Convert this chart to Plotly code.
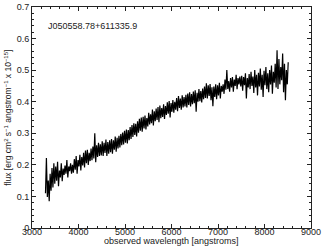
import plotly.graph_objects as go

object_name = "J050558.78+611335.9"

wavelength_start = 3290
wavelength_step = 20

flux = [
    0.110, 0.222, 0.098, 0.150, 0.085, 0.172, 0.118, 0.190, 0.128, 0.205,
    0.140, 0.195, 0.150, 0.210, 0.132, 0.182, 0.160, 0.205, 0.148, 0.188,
    0.168, 0.198, 0.172, 0.215, 0.160, 0.195, 0.180, 0.205, 0.172, 0.200,
    0.175, 0.218, 0.185, 0.228, 0.172, 0.215, 0.195, 0.232, 0.182, 0.225,
    0.198, 0.238, 0.192, 0.245, 0.205, 0.248, 0.200, 0.238, 0.212, 0.252,
    0.215, 0.258, 0.220, 0.300, 0.208, 0.262, 0.225, 0.270, 0.228, 0.265,
    0.230, 0.275, 0.228, 0.270, 0.238, 0.280, 0.228, 0.272, 0.235, 0.278,
    0.240, 0.282, 0.235, 0.278, 0.248, 0.290, 0.242, 0.286, 0.252, 0.292,
    0.255, 0.298, 0.262, 0.302, 0.265, 0.308, 0.270, 0.312, 0.268, 0.310,
    0.278, 0.320, 0.282, 0.326, 0.288, 0.332, 0.295, 0.330, 0.290, 0.338,
    0.302, 0.346, 0.308, 0.350, 0.305, 0.352, 0.315, 0.356, 0.312, 0.348,
    0.322, 0.365, 0.328, 0.360, 0.332, 0.375, 0.325, 0.370, 0.338, 0.378,
    0.342, 0.383, 0.335, 0.388, 0.348, 0.380, 0.352, 0.392, 0.345, 0.386,
    0.358, 0.398, 0.362, 0.402, 0.350, 0.396, 0.368, 0.405, 0.365, 0.400,
    0.375, 0.412, 0.370, 0.418, 0.380, 0.410, 0.375, 0.420, 0.382, 0.415,
    0.385, 0.422, 0.382, 0.426, 0.390, 0.430, 0.385, 0.424, 0.392, 0.432,
    0.395, 0.436, 0.368, 0.428, 0.400, 0.440, 0.402, 0.434, 0.398, 0.442,
    0.408, 0.448, 0.412, 0.458, 0.410, 0.452, 0.418, 0.456, 0.405, 0.446,
    0.386, 0.448, 0.415, 0.455, 0.408, 0.452, 0.420, 0.460, 0.410, 0.450,
    0.432, 0.455, 0.425, 0.470, 0.438, 0.500, 0.440, 0.465, 0.432, 0.475,
    0.445, 0.478, 0.432, 0.470, 0.450, 0.485, 0.440, 0.475, 0.455, 0.480,
    0.448, 0.482, 0.435, 0.478, 0.452, 0.490, 0.410, 0.475, 0.445, 0.488,
    0.440, 0.495, 0.450, 0.480, 0.428, 0.500, 0.445, 0.485, 0.420, 0.492,
    0.448, 0.505, 0.438, 0.485, 0.415, 0.498, 0.452, 0.510, 0.440, 0.490,
    0.430, 0.500, 0.455, 0.515, 0.425, 0.495, 0.460, 0.520, 0.445, 0.563,
    0.440, 0.535, 0.455, 0.510, 0.468, 0.553, 0.430, 0.520, 0.405, 0.500,
    0.455, 0.525,
]

wavelength = [wavelength_start + wavelength_step * i for i in range(len(flux))]

x_ticks = [3000, 4000, 5000, 6000, 7000, 8000, 9000]
y_ticks = [0, 0.1, 0.2, 0.3, 0.4, 0.5, 0.6, 0.7]
y_tick_labels = ["0", "0.1", "0.2", "0.3", "0.4", "0.5", "0.6", "0.7"]

x_title = "observed wavelength [angstroms]"
y_title = "flux [erg cm<sup>2</sup> s<sup>−1</sup> angstrom<sup>−1</sup> x 10<sup>−15</sup>]"

FONT = "Liberation Sans, Arial, Helvetica, sans-serif"
AX = "#222222"
TXT = "#222222"

fig = go.Figure()
fig.add_trace(go.Scatter(
    x=wavelength, y=flux, mode="lines",
    line=dict(color="black", width=1.2),
    showlegend=False, hoverinfo="skip",
))

axis_common = dict(
    showline=True, linecolor=AX, linewidth=1, mirror="ticks",
    ticks="inside", ticklen=4, tickcolor=AX, tickwidth=1,
    showgrid=False, zeroline=False, automargin=False,
    tickfont=dict(family=FONT, size=9, color=TXT),
)

fig.update_layout(
    width=323, height=250,
    margin=dict(l=32, r=12, t=7, b=22),
    paper_bgcolor="white", plot_bgcolor="white",
    font=dict(family=FONT, size=9, color=TXT),
    xaxis=dict(
        range=[3000, 9000], tickmode="array", tickvals=x_ticks,
        ticktext=[str(v) for v in x_ticks], ticklabelstandoff=-5,
        minor=dict(ticks="inside", ticklen=2, dtick=200, tickcolor=AX, showgrid=False),
        **axis_common,
    ),
    yaxis=dict(
        range=[0, 0.7], tickmode="array", tickvals=y_ticks, ticktext=y_tick_labels,
        minor=dict(ticks="inside", ticklen=2, dtick=0.02, tickcolor=AX, showgrid=False),
        **axis_common,
    ),
    annotations=[
        dict(text=object_name, xref="paper", yref="paper",
             x=0.05, y=0.914, xanchor="left", yanchor="middle",
             showarrow=False, font=dict(family=FONT, size=9, color=TXT)),
        dict(text=x_title, xref="paper", yref="paper",
             x=0.5, y=-0.06, xanchor="center", yanchor="middle",
             showarrow=False, font=dict(family=FONT, size=9, color=TXT)),
        dict(text=y_title, xref="paper", yref="paper",
             x=-0.085, y=0.5, xanchor="center", yanchor="middle", textangle=-90,
             showarrow=False, font=dict(family=FONT, size=8.5, color=TXT)),
    ],
)

fig.write_html(
    "out.html",
    config={"displayModeBar": False},
    post_script="document.body.style.margin='0';document.body.style.padding='0';",
)
